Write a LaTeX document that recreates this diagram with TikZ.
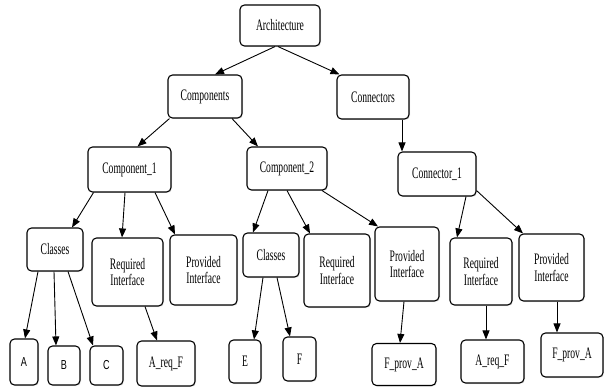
\documentclass[tikz,border=0pt]{standalone}
\usepackage{fontspec}
\setmainfont[FakeStretch=0.6]{Liberation Serif}
\setsansfont[FakeStretch=0.7]{Liberation Sans}
\usetikzlibrary{arrows.meta,shadows}

\begin{document}
\begin{tikzpicture}[
    x=1pt, y=-1pt,
    font=\fontsize{16}{16.5}\selectfont,
    >={Triangle[length=9pt,width=7pt]},
    box/.style={draw, rounded corners=4.5pt, line width=1.1pt, align=center, inner sep=2pt,
      fill=white, drop shadow={opacity=0.2, shadow xshift=1pt, shadow yshift=-1pt}},
    leaf/.style={box, font=\sffamily\fontsize{13}{14}\selectfont},
    arr/.style={->, line width=0.9pt}
  ]
    \useasboundingbox (0,0) rectangle (604,387);
    % top levels
    \node[box, minimum width=80pt, minimum height=41pt] (arch) at (280,25.5) {Architecture};
    \node[box, minimum width=74pt, minimum height=43pt] (comps) at (205,96.5) {Components};
    \node[box, minimum width=72pt, minimum height=44pt] (conns) at (373,97) {Connectors};
    \node[box, minimum width=83pt, minimum height=45pt] (comp1) at (129.5,169.5) {Component\_1};
    \node[box, minimum width=80pt, minimum height=43pt] (comp2) at (287,168.5) {Component\_2};
    \node[box, minimum width=78pt, minimum height=44pt] (conn1) at (437,174) {Connector\_1};
    % classes and interfaces
    \node[box, minimum width=56pt, minimum height=43pt] (cls1) at (55,249.5) {Classes};
    \node[box, minimum width=71pt, minimum height=68pt] (req1) at (127.5,272) {Required\\Interface};
    \node[box, minimum width=67pt, minimum height=70pt] (prov1) at (203.5,270) {Provided\\Interface};
    \node[box, minimum width=56pt, minimum height=44pt] (cls2) at (271,255) {Classes};
    \node[box, minimum width=66pt, minimum height=73pt] (req2) at (337,270.5) {Required\\Interface};
    \node[box, minimum width=64pt, minimum height=74pt] (prov2) at (407,264) {Provided\\Interface};
    \node[box, minimum width=62pt, minimum height=67pt] (req3) at (481,271.5) {Required\\Interface};
    \node[box, minimum width=65pt, minimum height=67pt] (prov3) at (551.5,267.5) {Provided\\Interface};
    % leaves
    \node[leaf, minimum width=28pt, minimum height=46pt] (a) at (24,362) {A};
    \node[leaf, minimum width=32pt, minimum height=39pt] (b) at (64,365.5) {B};
    \node[leaf, minimum width=33pt, minimum height=39pt] (c) at (106.5,365.5) {C};
    \node[box, minimum width=58pt, minimum height=45pt] (areqf) at (166,363.5) {A\_req\_F};
    \node[box, minimum width=32pt, minimum height=43pt] (e) at (245,361.5) {E};
    \node[box, minimum width=33pt, minimum height=44pt] (f) at (299.5,359) {F};
    \node[box, minimum width=64pt, minimum height=42pt] (fprova) at (404,364.5) {F\_prov\_A};
    \node[box, minimum width=63pt, minimum height=43pt] (areqf2) at (492.5,361.5) {A\_req\_F};
    \node[box, minimum width=62pt, minimum height=44pt] (fprova2) at (572,355) {F\_prov\_A};
    % connectors
    \draw[arr] ([xshift=-5pt]arch.south) -- ([xshift=10pt]comps.north);
    \draw[arr] ([xshift=-2pt]arch.south) -- ([xshift=3pt]conns.north west);
    \draw[arr] ([xshift=2pt]comps.south west) -- ([xshift=8pt]comp1.north);
    \draw[arr] ([xshift=27pt]comps.south) -- ([xshift=-29pt]comp2.north);
    \draw[arr] ([xshift=29pt]conns.south) -- ([xshift=-35pt]conn1.north);
    \draw[arr] ([xshift=-36pt]comp1.south) -- ([xshift=17pt]cls1.north);
    \draw[arr] ([xshift=-4.5pt]comp1.south) -- ([xshift=-5.5pt]req1.north);
    \draw[arr] ([xshift=25.5pt]comp1.south) -- ([xshift=-28.5pt]prov1.north);
    \draw[arr] ([xshift=-19pt]comp2.south) -- ([xshift=-18pt]cls2.north);
    \draw[arr] (comp2.south) -- ([xshift=-27pt]req2.north);
    \draw[arr] ([xshift=35pt]comp2.south) -- ([xshift=-29pt]prov2.north);
    \draw[arr] ([xshift=29pt]conn1.south) -- ([xshift=-24pt]req3.north);
    \draw[arr] ([yshift=6pt]conn1.south east) -- ([xshift=-28.5pt]prov3.north);
    \draw[arr] ([xshift=-17pt]cls1.south) -- ([xshift=1pt]a.north);
    \draw[arr] ([xshift=-1pt]cls1.south) -- ([xshift=-8pt]b.north);
    \draw[arr] ([xshift=13pt]cls1.south) -- ([xshift=-13.5pt]c.north);
    \draw[arr] ([xshift=17.5pt]req1.south) -- ([xshift=-9pt]areqf.north);
    \draw[arr] ([xshift=-8pt]cls2.south) -- ([xshift=9pt]e.north);
    \draw[arr] ([xshift=6pt]cls2.south) -- ([xshift=-9.5pt]f.north);
    \draw[arr] ([xshift=-3pt]prov2.south) -- ([xshift=-4pt]fprova.north);
    \draw[arr] ([xshift=5pt]req3.south) -- ([xshift=-6.5pt]areqf2.north);
    \draw[arr] ([xshift=5.5pt]prov3.south) -- ([xshift=-15pt]fprova2.north);
\end{tikzpicture}
\end{document}
